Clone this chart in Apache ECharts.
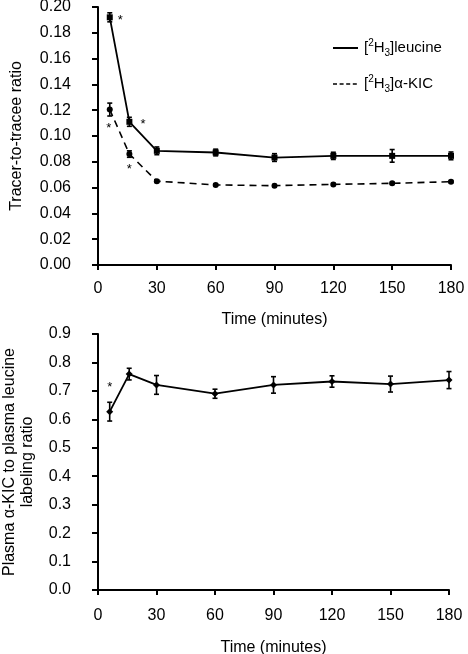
<!DOCTYPE html>
<html>
<head>
<meta charset="utf-8">
<script src="https://cdn.jsdelivr.net/npm/echarts@6/dist/echarts.min.js"></script>
<style>
html,body{margin:0;padding:0;background:#fff;}
#c{width:468px;height:654px;}
</style>
</head>
<body>
<div id="c"></div>
<script>
// ---- data ----
const times = [6, 16, 30, 60, 90, 120, 150, 180];
const xTicks = [0, 30, 60, 90, 120, 150, 180];
const leucine = [0.192, 0.111, 0.0885, 0.0872, 0.0833, 0.0846, 0.0846, 0.0846];
const leucineErr = [0.0035, 0.0035, 0.003, 0.0026, 0.003, 0.0028, 0.0049, 0.003];
const kic = [0.1205, 0.086, 0.065, 0.0621, 0.0615, 0.0625, 0.0633, 0.0646];
const kicErr = [0.005, 0.0025, 0.001, 0.0008, 0.0008, 0.0008, 0.0008, 0.0008];
const ratio = [0.627, 0.759, 0.721, 0.690, 0.721, 0.733, 0.724, 0.738];
const ratioErr = [0.033, 0.0205, 0.033, 0.016, 0.029, 0.020, 0.028, 0.030];
const seriesNames = ['leucine', 'kic'];

const FONT = '"Liberation Sans", Arial, sans-serif';

function errData(vals, errs) {
  return times.map((t, i) => [t, vals[i] - errs[i], vals[i] + errs[i]]);
}
function errRender(params, api) {
  const x = api.value(0), lo = api.value(1), hi = api.value(2);
  const p1 = api.coord([x, hi]), p2 = api.coord([x, lo]);
  const w = 2.5;
  const st = {stroke: '#000', lineWidth: 1.6};
  return {type: 'group', children: [
    {type: 'line', shape: {x1: p1[0], y1: p1[1], x2: p2[0], y2: p2[1]}, style: st},
    {type: 'line', shape: {x1: p1[0] - w, y1: p1[1], x2: p1[0] + w, y2: p1[1]}, style: st},
    {type: 'line', shape: {x1: p2[0] - w, y1: p2[1], x2: p2[0] + w, y2: p2[1]}, style: st}
  ]};
}
function withStars(vals, stars) {
  return times.map((t, i) => {
    const item = {value: [t, vals[i]]};
    if (stars[i]) item.label = Object.assign({show: true, formatter: '*', color: '#000', fontSize: 13, fontFamily: FONT}, stars[i]);
    return item;
  });
}

function xAxis(gi, labelMargin, nameGap) {
  return {
    gridIndex: gi, type: 'value', min: 0, max: 180, interval: 30,
    name: 'Time (minutes)', nameLocation: 'middle', nameGap: nameGap,
    nameTextStyle: {fontSize: 16, color: '#000', fontFamily: FONT},
    axisLine: {show: true, lineStyle: {color: '#000', width: 2}},
    axisTick: {show: true, length: 5, lineStyle: {color: '#000', width: 2}},
    axisLabel: {fontSize: 16, color: '#000', margin: labelMargin, fontFamily: FONT,
      customValues: xTicks},
    splitLine: {show: false}
  };
}
function yAxis(gi, max, interval, dec, name, gap) {
  return {
    gridIndex: gi, type: 'value', min: 0, max: max, interval: interval, offset: 12,
    name: name, nameLocation: 'middle', nameGap: gap, nameRotate: 90,
    nameTextStyle: {fontSize: 16, color: '#000', fontFamily: FONT, lineHeight: 18},
    axisLine: {show: true, lineStyle: {color: '#000', width: 2}},
    axisTick: {show: true, length: 6, lineStyle: {color: '#000', width: 2}},
    axisLabel: {fontSize: 16, color: '#000', margin: 15, fontFamily: FONT,
      formatter: v => v.toFixed(dec)},
    splitLine: {show: false}
  };
}

const legendRich = {
  base: {fontSize: 15, color: '#000', fontFamily: FONT, lineHeight: 20},
  sup: {fontSize: 10, color: '#000', fontFamily: FONT, verticalAlign: 'top', lineHeight: 20, padding: [0, 0, 6, 0]},
  sub: {fontSize: 10, color: '#000', fontFamily: FONT, verticalAlign: 'bottom', lineHeight: 20, padding: [6, 0, 0, 0]}
};
const legendText = {
  leucine: '{base|[}{sup|2}{base|H}{sub|3}{base|]leucine}',
  kic: '{base|[}{sup|2}{base|H}{sub|3}{base|]α-KIC}'
};

const option = {
  backgroundColor: '#fff',
  animation: false,
  grid: [
    {left: 98, right: 17, top: 7, height: 258, containLabel: false, outerBoundsMode: 'none'},
    {left: 98, right: 19, top: 334, height: 256, containLabel: false, outerBoundsMode: 'none'}
  ],
  legend: {
    orient: 'vertical', left: 327, top: 33, itemWidth: 25, itemHeight: 14, itemGap: 16,
    itemStyle: {opacity: 0},
    data: [
      {name: seriesNames[0]},
      {name: seriesNames[1], lineStyle: {type: [4, 2.6], width: 1.5}}
    ],
    formatter: n => legendText[n],
    textStyle: {rich: legendRich, padding: [0, 0, 0, 1]}
  },
  xAxis: [xAxis(0, 16, 47), xAxis(1, 18, 50)],
  yAxis: [
    yAxis(0, 0.2, 0.02, 2, 'Tracer-to-tracee ratio', 60),
    yAxis(1, 0.9, 0.1, 1, 'Plasma α-KIC to plasma leucine\nlabeling ratio', 49)
  ],
  series: [
    {type: 'custom', xAxisIndex: 0, yAxisIndex: 0, renderItem: errRender, data: errData(leucine, leucineErr), z: 3, encode: {x: 0, y: [1, 2]}},
    {type: 'custom', xAxisIndex: 0, yAxisIndex: 0, renderItem: errRender, data: errData(kic, kicErr), z: 3, encode: {x: 0, y: [1, 2]}},
    {type: 'custom', xAxisIndex: 1, yAxisIndex: 1, renderItem: errRender, data: errData(ratio, ratioErr), z: 3, encode: {x: 0, y: [1, 2]}},
    {
      name: seriesNames[0], type: 'line', xAxisIndex: 0, yAxisIndex: 0,
      symbol: 'rect', symbolSize: 6, showAllSymbol: true,
      lineStyle: {color: '#000', width: 1.8, type: 'solid'},
      itemStyle: {color: '#000'}, z: 4,
      data: withStars(leucine, [
        {position: 'right', distance: 5, offset: [0, 3]},
        {position: 'right', distance: 8, offset: [0, 3]}
      ])
    },
    {
      name: seriesNames[1], type: 'line', xAxisIndex: 0, yAxisIndex: 0,
      symbol: 'circle', symbolSize: 6, showAllSymbol: true,
      lineStyle: {color: '#000', width: 1.6, type: [7, 5]},
      itemStyle: {color: '#000'}, z: 4,
      data: withStars(kic, [
        {position: 'bottom', distance: 9, offset: [-1, 0]},
        {position: 'bottom', distance: 6, offset: [0, 0]}
      ])
    },
    {
      name: 'ratio', type: 'line', xAxisIndex: 1, yAxisIndex: 1,
      symbol: 'diamond', symbolSize: 7, showAllSymbol: true,
      lineStyle: {color: '#000', width: 1.8},
      itemStyle: {color: '#000'}, z: 4,
      data: withStars(ratio, [
        {position: 'top', distance: 14, offset: [0, 0]}
      ])
    }
  ]
};

const chart = echarts.init(document.getElementById('c'), null, {renderer: 'canvas'});
chart.setOption(option);
</script>
</body>
</html>
